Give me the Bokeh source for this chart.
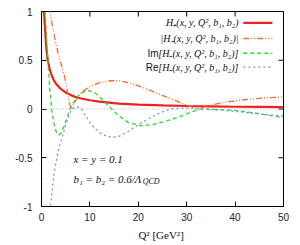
import math
from bokeh.plotting import figure
from bokeh.models import Span, Label, FixedTicker
from bokeh.embed import file_html
from bokeh.resources import INLINE

# ---- data ----
q_hplus = [0.45, 0.7, 1.0, 1.3, 1.7, 2.0, 2.5, 3.0, 3.9, 5, 6, 7, 8, 10, 12, 14, 16, 20, 25, 30, 35, 40, 45, 50]
hplus = [1.05, 0.85, 0.62, 0.5, 0.41, 0.36, 0.30, 0.26, 0.21, 0.17, 0.145, 0.124, 0.11, 0.09, 0.075,
         0.065, 0.055, 0.045, 0.037, 0.031, 0.027, 0.023, 0.021, 0.019]

q_abs = [1.6, 2.0, 2.5, 2.9, 3.5, 4.0, 4.75, 5.3, 5.9, 6.05, 6.5, 7.0, 7.4, 8.5, 10, 12, 14.3, 16, 18,
         20.5, 22.5, 25, 28, 30, 31.4, 32.2, 33, 35, 38, 41, 44, 47, 50]
habs = [1.05, 0.93, 0.79, 0.69, 0.56, 0.47, 0.34, 0.2, 0.04, 0.0, 0.04, 0.08, 0.12, 0.18, 0.23, 0.27,
        0.29, 0.29, 0.27, 0.23, 0.19, 0.14, 0.08, 0.04, 0.015, 0.0, 0.015, 0.04, 0.07, 0.09, 0.105, 0.115, 0.125]

q_im = [0.6, 0.75, 1.0, 1.3, 1.7, 2.1, 2.5, 3.0, 3.5, 4.0, 4.75, 5.3, 5.9, 7, 8, 9.7, 11, 12.5, 14.5,
        16, 18, 20.5, 23, 26, 29, 31, 33, 36, 40, 44, 47, 50]
him = [1.15, 1.0, 0.8, 0.5, 0.22, 0.0, -0.13, -0.23, -0.27, -0.25, -0.17, -0.09, 0.0, 0.1, 0.16, 0.19,
       0.17, 0.1, 0.0, -0.07, -0.14, -0.17, -0.16, -0.12, -0.07, -0.03, 0.0, -0.005, -0.015, -0.04, -0.065, -0.09]

q_re = [0.0, 0.03, 1.6, 1.85, 2.3, 2.8, 3.5, 4.5, 5.3, 6.2, 7, 7.5, 8.3, 9, 10, 11, 12.5, 14.5, 16, 18,
        20, 22.5, 24.5, 26.6, 29, 31, 33, 37, 40, 43, 46, 50]
hre = [1.5, -1.5, -1.5, -1.0, -0.78, -0.6, -0.42, -0.25, -0.12, 0.0, 0.02, 0.02, 0.0, -0.06, -0.14, -0.2,
       -0.26, -0.29, -0.28, -0.23, -0.16, -0.09, -0.04, 0.0, 0.01, 0.01, 0.0, -0.01, -0.025, -0.04, -0.055, -0.07]

x_ticks = [0, 10, 20, 30, 40, 50]
y_ticks = [-1, -0.5, 0, 0.5, 1]
y_tick_labels = ["-1", "-0.5", "0", "0.5", "1"]

series_prefix = ["", "", "Im", "Re"]
series_labels = ["H\u208a(x, y, Q\u00b2, b\u2081, b\u2082)",
                 "|H\u208b(x, y, Q\u00b2, b\u2081, b\u2082)|",
                 "[H\u208b(x, y, Q\u00b2, b\u2081, b\u2082)]",
                 "[H\u208b(x, y, Q\u00b2, b\u2081, b\u2082)]"]

# ---- figure ----
p = figure(width=300, height=245, x_range=(0, 50), y_range=(-1, 1),
           output_backend="svg", toolbar_location=None,
           min_border_left=41, min_border_right=17, min_border_top=11, min_border_bottom=39)
p.xgrid.visible = False
p.ygrid.visible = False
p.outline_line_color = "black"
p.background_fill_color = "white"
p.border_fill_color = "white"

p.xaxis.ticker = FixedTicker(ticks=x_ticks)
p.yaxis.ticker = FixedTicker(ticks=y_ticks)
p.yaxis.major_label_overrides = {t: l for t, l in zip(y_ticks, y_tick_labels)}
for ax in (p.xaxis[0], p.yaxis[0]):
    ax.major_tick_in = 5
    ax.major_tick_out = 0
    ax.minor_tick_in = 0
    ax.minor_tick_out = 0
    ax.axis_line_color = "black"
    ax.major_tick_line_color = "black"
    ax.major_label_text_font = "Liberation Sans"
    ax.major_label_text_font_size = "10px"
    ax.major_label_text_color = "#222222"
p.yaxis.major_label_standoff = 9
p.xaxis.major_label_standoff = 6
p.xaxis.axis_label = "Q\u00b2  [GeV\u00b2]"
p.xaxis.axis_label_text_font = "Liberation Serif"
p.xaxis.axis_label_text_font_style = "normal"
p.xaxis.axis_label_text_font_size = "11px"
p.xaxis.axis_label_text_color = "#111111"
p.xaxis.axis_label_standoff = 5

# mirror ticks on the top and right edges (half of each dash is clipped by the frame)
p.scatter(x_ticks, [y_ticks[-1]] * len(x_ticks), marker="dash", angle=math.pi / 2, size=10,
          line_color="black", line_width=1)
p.scatter([x_ticks[-1]] * len(y_ticks), y_ticks, marker="dash", size=10,
          line_color="black", line_width=1)

p.add_layout(Span(location=0, dimension="width", line_color="#aaaaaa", line_width=1, line_dash="1 2"))

styles = [
    dict(color="#f02020", width=2.2, dash="solid"),
    dict(color="#ff6a2a", width=1.3, dash="6 2 1 2 1 2"),
    dict(color="#22e022", width=1.3, dash="4 3"),
    dict(color="#8888ff", width=1.3, dash="2 3"),
]
data = [(q_hplus, hplus), (q_abs, habs), (q_im, him), (q_re, hre)]
for (qx, vy), st in zip(data, styles):
    p.line(qx, vy, line_color=st["color"], line_width=st["width"], line_dash=st["dash"])

# ---- legend (text right-aligned, sample to the right) ----
leg_y = [0.884, 0.723, 0.572, 0.429]
for pre, lab, st, yy in zip(series_prefix, series_labels, styles, leg_y):
    p.add_layout(Label(x=40.7, y=yy, text=lab, text_font="Liberation Serif", text_font_style="italic",
                       text_font_size="10px", text_align="right", text_baseline="middle", text_color="#111111"))
    if pre:
        p.add_layout(Label(x=24.2, y=yy, text=pre, text_font="Liberation Sans",
                           text_font_size="10px", text_align="right", text_baseline="middle",
                           text_color="#111111"))
    p.line([41.7, 47.7], [yy, yy], line_color=st["color"], line_width=st["width"], line_dash=st["dash"])

# ---- annotations ----
p.add_layout(Label(x=6.6, y=-0.508, text="x = y = 0.1", text_font="Liberation Serif", text_font_style="italic",
                   text_font_size="11px", text_baseline="middle", text_color="#111111"))
p.add_layout(Label(x=6.6, y=-0.713, text="b\u2081 = b\u2082 = 0.6/\u039b", text_font="Liberation Serif",
                   text_font_style="italic", text_font_size="11px", text_baseline="middle", text_color="#111111"))
p.add_layout(Label(x=20.9, y=-0.745, text="QCD", text_font="Liberation Serif",
                   text_font_style="italic", text_font_size="8px", text_baseline="middle", text_color="#111111"))

open("out.html", "w").write(file_html(p, INLINE))
